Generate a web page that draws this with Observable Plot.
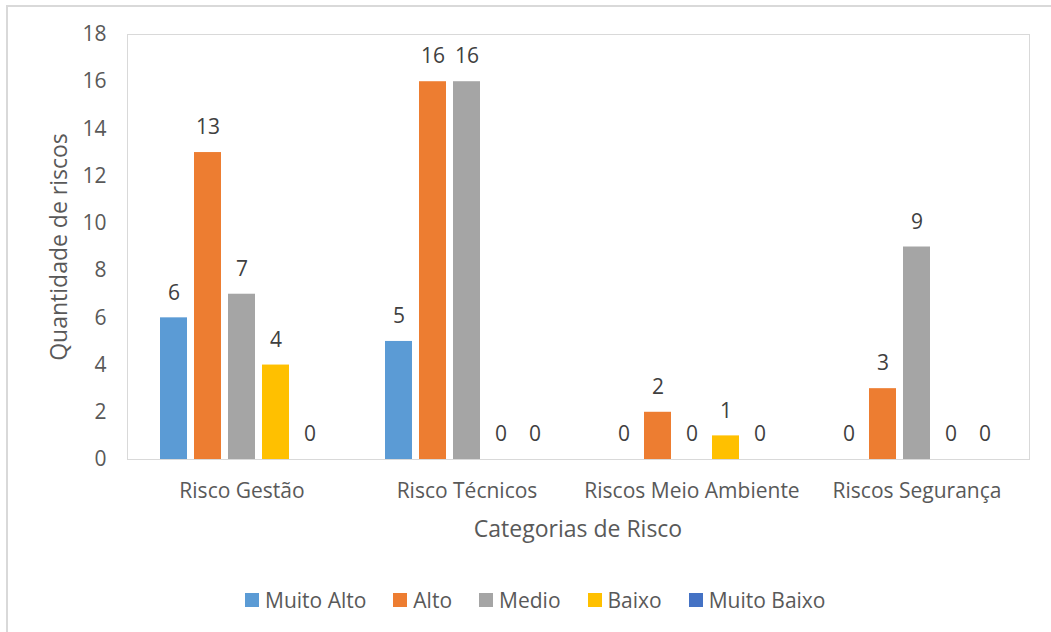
<!DOCTYPE html>
<html>
<head>
<meta charset="utf-8">
<script src="https://cdn.jsdelivr.net/npm/d3@7"></script>
<script src="https://cdn.jsdelivr.net/npm/@observablehq/plot@0.6"></script>
<style>
  html, body { margin: 0; padding: 0; background: #fff; overflow: hidden; }
  #wrap { position: relative; width: 1051px; height: 632px; font-family: "Open Sans", sans-serif; }
  #outer { position: absolute; left: 6px; top: 5px; width: 1100px; height: 700px; border-left: 2px solid #d9d9d9; border-top: 2px solid #d9d9d9; box-sizing: border-box; }
  #chart { position: absolute; left: 0; top: 0; }
  #frame { position: absolute; border: 1.5px solid #d9d9d9; box-sizing: border-box; pointer-events: none; }
  .title { position: absolute; color: #595959; font-size: 23px; white-space: nowrap; }
  #xtitle { left: 578px; top: 528px; transform: translate(-50%, -50%); }
  #ytitle { left: 58px; top: 247px; transform: translate(-50%, -50%) rotate(-90deg); }
  #legend { position: absolute; left: 245px; top: 586px; display: flex; gap: 27px; color: #595959; font-size: 21px; }
  .item { display: flex; align-items: center; gap: 6px; }
  .sw { width: 14px; height: 14px; display: inline-block; }
</style>
</head>
<body>
<div id="wrap">
  <div id="outer"></div>
  <div id="chart"></div>
  <div id="frame"></div>
  <div id="xtitle" class="title">Categorias de Risco</div>
  <div id="ytitle" class="title">Quantidade de riscos</div>
  <div id="legend"></div>
</div>
<script>
const categories = ["Risco Gestão", "Risco Técnicos", "Riscos Meio Ambiente", "Riscos Segurança"];
const series = ["Muito Alto", "Alto", "Medio", "Baixo", "Muito Baixo"];
const colors = ["#5b9bd5", "#ed7d31", "#a5a5a5", "#ffc000", "#4472c4"];
const muitoAlto  = [6, 5, 0, 0];
const alto       = [13, 16, 2, 3];
const medio      = [7, 16, 0, 9];
const baixo      = [4, 0, 1, 0];
const muitoBaixo = [0, 0, 0, 0];
const yTicks = [0, 2, 4, 6, 8, 10, 12, 14, 16, 18];

const seriesValues = [muitoAlto, alto, medio, baixo, muitoBaixo];
const data = [];
categories.forEach((c, i) => {
  series.forEach((s, j) => data.push({category: c, series: s, value: seriesValues[j][i]}));
});

const W = 1051, H = 560;
const mL = 127, mR = 21, mT = 34, mB = 101;

const plot = Plot.plot({
  width: W,
  height: H,
  marginLeft: mL,
  marginRight: mR,
  marginTop: mT,
  marginBottom: mB,
  style: { fontFamily: "Open Sans, sans-serif", fontSize: "21px", color: "#595959", background: "transparent" },
  fx: { domain: categories, padding: 0, label: null, tickSize: 0, tickPadding: 24 },
  x: { domain: series, paddingInner: 0.2, paddingOuter: 0.875, axis: null },
  y: { domain: [0, 18], ticks: yTicks, tickSize: 0, tickPadding: 23, label: null },
  color: { domain: series, range: colors },
  marks: [
    Plot.barY(data, { fx: "category", x: "series", y: "value", fill: "series" }),
    Plot.text(data, { fx: "category", x: "series", y: "value", text: d => String(d.value), dy: -25, fill: "#404040", fontSize: 21 })
  ]
});
document.getElementById("chart").appendChild(plot);

const frame = document.getElementById("frame");
frame.style.left = mL + "px";
frame.style.top = mT + "px";
frame.style.width = (W - mL - mR) + "px";
frame.style.height = (H - mT - mB + 1) + "px";

const legend = document.getElementById("legend");
series.forEach((s, i) => {
  const it = document.createElement("div");
  it.className = "item";
  const sw = document.createElement("span");
  sw.className = "sw";
  sw.style.background = colors[i];
  const t = document.createElement("span");
  t.textContent = s;
  it.appendChild(sw); it.appendChild(t);
  legend.appendChild(it);
});
</script>
</body>
</html>
